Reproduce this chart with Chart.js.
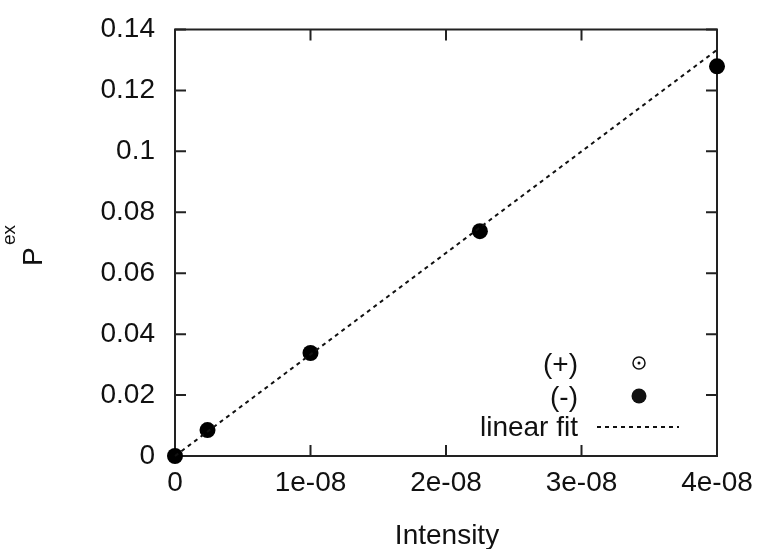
<!DOCTYPE html>
<html>
<head>
<meta charset="utf-8">
<script src="https://cdn.jsdelivr.net/npm/chart.js@4"></script>
<style>
  html, body { margin: 0; padding: 0; background: #fff; }
  #wrap { width: 763px; height: 549px; position: relative; }
</style>
</head>
<body>
<div id="wrap"><canvas id="chart"></canvas></div>
<script>
// ── Data ──────────────────────────────────────
const intensity = [0, 2.4e-9, 1.0e-8, 2.25e-8, 4.0e-8];
const pexMinus = [0, 0.0085, 0.0338, 0.0738, 0.1279];
const pexPlus = [];               // (+) series: no points visible
const fitX = [0, 4.0e-8];
const fitY = [0, 0.1333];
const xTicks = [0, 1e-8, 2e-8, 3e-8, 4e-8];
const yTicks = [0, 0.02, 0.04, 0.06, 0.08, 0.1, 0.12, 0.14];

const FONT = '"Liberation Sans", Arial, sans-serif';
const INK = '#111';

const toPts = (xs, ys) => xs.map((x, i) => ({ x, y: ys[i] }));

// ── Frame, inward ticks, titles, key ─────────
const framePlugin = {
  id: 'frame',
  beforeDatasetsDraw(chart) {
    const { ctx, chartArea: a, scales: { x, y } } = chart;
    ctx.save();
    ctx.strokeStyle = '#222';
    ctx.lineWidth = 2;
    ctx.strokeRect(a.left, a.top, a.right - a.left, a.bottom - a.top);
    ctx.beginPath();
    xTicks.forEach(v => {
      const px = x.getPixelForValue(v);
      ctx.moveTo(px, a.bottom); ctx.lineTo(px, a.bottom - 11);
      ctx.moveTo(px, a.top); ctx.lineTo(px, a.top + 11);
    });
    yTicks.forEach(v => {
      const py = y.getPixelForValue(v);
      ctx.moveTo(a.left, py); ctx.lineTo(a.left + 11, py);
      ctx.moveTo(a.right, py); ctx.lineTo(a.right - 11, py);
    });
    ctx.stroke();
    ctx.restore();
  },
  afterDraw(chart) {
    const { ctx, chartArea: a } = chart;
    ctx.save();
    ctx.fillStyle = INK;
    // x title
    ctx.font = `28px ${FONT}`;
    ctx.textAlign = 'center';
    ctx.textBaseline = 'alphabetic';
    ctx.fillText('Intensity', (a.left + a.right) / 2 + 1, 544);
    // y title: P with "ex" index
    ctx.translate(42, 266);
    ctx.rotate(-Math.PI / 2);
    ctx.textAlign = 'left';
    ctx.fillText('P', 0, 0);
    ctx.font = `19px ${FONT}`;
    ctx.fillText('ex', 21, -27);
    ctx.restore();

    // key
    ctx.save();
    ctx.fillStyle = INK;
    ctx.strokeStyle = INK;
    ctx.font = `28px ${FONT}`;
    ctx.textAlign = 'right';
    ctx.textBaseline = 'alphabetic';
    const keyX = 578, markX = 639;
    ctx.fillText('(+)', keyX, 373);
    ctx.fillText('(-)', keyX, 406);
    ctx.fillText('linear fit', keyX, 436);
    ctx.lineWidth = 1.5;
    ctx.beginPath(); ctx.arc(markX, 363, 6, 0, Math.PI * 2); ctx.stroke();
    ctx.beginPath(); ctx.arc(markX, 363, 1.5, 0, Math.PI * 2); ctx.fill();
    ctx.beginPath(); ctx.arc(markX, 396, 7.5, 0, Math.PI * 2); ctx.fill();
    ctx.lineWidth = 2;
    ctx.setLineDash([4, 4]);
    ctx.beginPath(); ctx.moveTo(597, 427); ctx.lineTo(679, 427); ctx.stroke();
    ctx.restore();
  }
};

new Chart(document.getElementById('chart'), {
  type: 'scatter',
  data: {
    datasets: [
      {
        label: 'linear fit',
        data: toPts(fitX, fitY),
        showLine: true,
        borderColor: INK,
        borderWidth: 2,
        borderDash: [4, 4],
        pointRadius: 0,
        clip: false
      },
      {
        label: '(+)',
        data: pexPlus,
        pointRadius: 6,
        pointBackgroundColor: '#fff',
        pointBorderColor: INK,
        clip: false
      },
      {
        label: '(-)',
        data: toPts(intensity, pexMinus),
        pointRadius: 8,
        pointBackgroundColor: '#000',
        pointBorderColor: '#000',
        pointBorderWidth: 0,
        clip: false
      }
    ]
  },
  options: {
    responsive: true,
    maintainAspectRatio: false,
    animation: false,
    layout: { padding: { left: 0, right: 46, top: 29.5, bottom: 0 } },
    plugins: { legend: { display: false }, tooltip: { enabled: false } },
    scales: {
      x: {
        type: 'linear',
        min: 0, max: 4e-8,
        afterFit: s => { s.height = 93; s.paddingLeft = 0; s.paddingRight = 0; },
        afterBuildTicks: s => { s.ticks = xTicks.map(v => ({ value: v })); },
        grid: { display: false, drawTicks: false },
        border: { display: false },
        ticks: {
          padding: 10,
          color: INK,
          font: { family: FONT, size: 28 },
          callback: v => v === 0 ? '0' : `${Math.round(v * 1e8)}e-08`
        }
      },
      y: {
        type: 'linear',
        min: 0, max: 0.14,
        afterFit: s => { s.width = 175; s.paddingTop = 0; s.paddingBottom = 0; },
        afterBuildTicks: s => { s.ticks = yTicks.map(v => ({ value: v })); },
        grid: { display: false, drawTicks: false },
        border: { display: false },
        ticks: {
          padding: 20,
          color: INK,
          font: { family: FONT, size: 28 },
          callback: v => String(parseFloat(v.toFixed(2)))
        }
      }
    }
  },
  plugins: [framePlugin]
});
</script>
</body>
</html>
